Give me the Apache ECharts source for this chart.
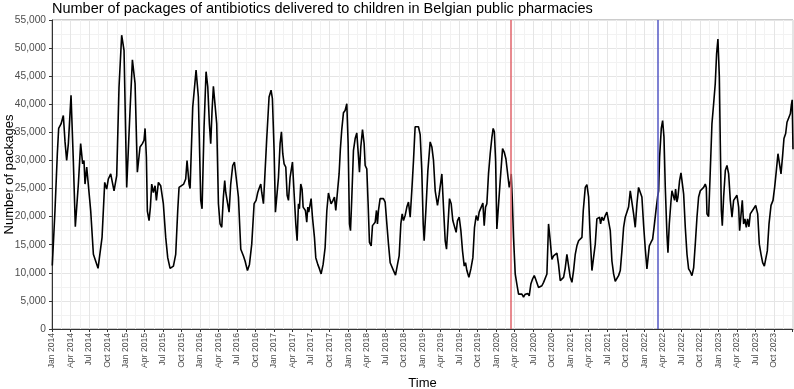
<!DOCTYPE html>
<html>
<head>
<meta charset="utf-8">
<script src="https://cdn.jsdelivr.net/npm/echarts@6/dist/echarts.min.js"></script>
<style>
html, body { margin: 0; padding: 0; background: #fff; }
#cn { width: 794px; height: 389px; }
</style>
</head>
<body>
<div id="cn"></div>
<script>
'use strict';

// time as decimal year, one entry per packages value
const timePoints = [
    2014.004, 2014.040, 2014.072, 2014.090, 2014.122, 2014.153, 2014.176, 2014.198, 2014.221, 2014.257,
    2014.288, 2014.315, 2014.356, 2014.387, 2014.414, 2014.432, 2014.446, 2014.469, 2014.495, 2014.523,
    2014.559, 2014.586, 2014.622, 2014.676, 2014.712, 2014.739, 2014.761, 2014.793, 2014.811, 2014.838,
    2014.874, 2014.905, 2014.941, 2014.973,
    2015.009, 2015.027, 2015.054, 2015.086, 2015.122, 2015.153, 2015.189, 2015.221, 2015.243, 2015.257,
    2015.275, 2015.288, 2015.311, 2015.329, 2015.347, 2015.369, 2015.392, 2015.410, 2015.437, 2015.468,
    2015.504, 2015.536, 2015.563, 2015.595, 2015.640, 2015.671, 2015.698, 2015.716, 2015.743, 2015.779,
    2015.806, 2015.824, 2015.851, 2015.865, 2015.901, 2015.946, 2015.977,
    2016.009, 2016.027, 2016.054, 2016.081, 2016.104, 2016.126, 2016.144, 2016.162, 2016.180, 2016.198,
    2016.225, 2016.248, 2016.270, 2016.293, 2016.315, 2016.333, 2016.347, 2016.369, 2016.392, 2016.414,
    2016.441, 2016.464, 2016.486, 2016.518, 2016.550, 2016.586, 2016.608, 2016.640, 2016.667, 2016.698,
    2016.730, 2016.757, 2016.779, 2016.802, 2016.820, 2016.833, 2016.856, 2016.874, 2016.901, 2016.932,
    2016.959, 2016.977,
    2017.000, 2017.018, 2017.041, 2017.059, 2017.081, 2017.099, 2017.117, 2017.135, 2017.158, 2017.176,
    2017.194, 2017.216, 2017.248, 2017.266, 2017.293, 2017.311, 2017.329, 2017.342, 2017.360, 2017.378,
    2017.392, 2017.410, 2017.423, 2017.441, 2017.455, 2017.468, 2017.482, 2017.500, 2017.518, 2017.545,
    2017.563, 2017.590, 2017.613, 2017.635, 2017.662, 2017.689, 2017.712, 2017.734, 2017.752, 2017.770,
    2017.793, 2017.815, 2017.833, 2017.856, 2017.878, 2017.895, 2017.914, 2017.937, 2017.959, 2017.982,
    2018.000, 2018.018, 2018.032, 2018.050, 2018.072, 2018.095, 2018.117, 2018.140, 2018.153, 2018.171,
    2018.194, 2018.216, 2018.230, 2018.252, 2018.270, 2018.288, 2018.311, 2018.329, 2018.347, 2018.365,
    2018.383, 2018.396, 2018.410, 2018.432, 2018.455, 2018.477, 2018.500, 2018.523, 2018.545, 2018.568,
    2018.590, 2018.613, 2018.640, 2018.667, 2018.689, 2018.712, 2018.730, 2018.748, 2018.770, 2018.793,
    2018.815, 2018.838, 2018.860, 2018.883, 2018.905, 2018.928, 2018.950, 2018.973, 2018.995,
    2019.014, 2019.027, 2019.050, 2019.077, 2019.108, 2019.131, 2019.153, 2019.176, 2019.207, 2019.230,
    2019.266, 2019.288, 2019.311, 2019.329, 2019.347, 2019.369, 2019.392, 2019.414, 2019.437, 2019.459,
    2019.477, 2019.500, 2019.523, 2019.545, 2019.568, 2019.586, 2019.604, 2019.631, 2019.658, 2019.685,
    2019.707, 2019.730, 2019.752, 2019.770, 2019.793, 2019.820, 2019.838, 2019.856, 2019.874, 2019.896,
    2019.919, 2019.941, 2019.959, 2019.975, 2019.992,
    2020.009, 2020.032, 2020.054, 2020.086, 2020.108, 2020.131, 2020.153, 2020.176, 2020.194, 2020.203,
    2020.216, 2020.234, 2020.257, 2020.279, 2020.302, 2020.324, 2020.347, 2020.369, 2020.392, 2020.414,
    2020.428, 2020.446, 2020.468, 2020.491, 2020.514, 2020.532, 2020.549, 2020.572, 2020.595, 2020.617,
    2020.640, 2020.662, 2020.685, 2020.707, 2020.730, 2020.752, 2020.775, 2020.797, 2020.820, 2020.842,
    2020.865, 2020.887, 2020.910, 2020.932, 2020.955, 2020.977,
    2021.000, 2021.023, 2021.045, 2021.068, 2021.090, 2021.113, 2021.135, 2021.158, 2021.176, 2021.203,
    2021.225, 2021.248, 2021.270, 2021.293, 2021.315, 2021.338, 2021.360, 2021.383, 2021.396, 2021.410,
    2021.428, 2021.450, 2021.473, 2021.495, 2021.518, 2021.541, 2021.563, 2021.586, 2021.608, 2021.631,
    2021.653, 2021.676, 2021.698, 2021.721, 2021.743, 2021.766, 2021.788, 2021.811, 2021.833, 2021.856,
    2021.878, 2021.901, 2021.923, 2021.946, 2021.968, 2021.991,
    2022.014, 2022.036, 2022.050, 2022.068, 2022.090, 2022.113, 2022.135, 2022.158, 2022.180, 2022.194,
    2022.207, 2022.230, 2022.248, 2022.266, 2022.284, 2022.306, 2022.320, 2022.338, 2022.360, 2022.374,
    2022.396, 2022.410, 2022.423, 2022.441, 2022.455, 2022.477, 2022.496, 2022.514, 2022.532, 2022.554,
    2022.577, 2022.599, 2022.622, 2022.644, 2022.667, 2022.689, 2022.712, 2022.734, 2022.757, 2022.779,
    2022.802, 2022.824, 2022.838, 2022.847, 2022.869, 2022.892, 2022.914, 2022.937, 2022.959, 2022.977,
    2022.995,
    2023.014, 2023.027, 2023.041, 2023.054, 2023.072, 2023.095, 2023.117, 2023.140, 2023.162, 2023.185,
    2023.207, 2023.230, 2023.252, 2023.275, 2023.288, 2023.306, 2023.324, 2023.342, 2023.360, 2023.378,
    2023.396, 2023.414, 2023.432, 2023.455, 2023.477, 2023.505, 2023.532, 2023.554, 2023.577, 2023.599,
    2023.622, 2023.640, 2023.662, 2023.685, 2023.712, 2023.739, 2023.761, 2023.784, 2023.806, 2023.824,
    2023.847, 2023.869, 2023.887, 2023.910, 2023.928, 2023.950, 2023.973, 2023.986, 2023.998, 2024.009
];

const packages = [
    11300, 21000, 31200, 35700, 36500, 38000, 33300, 30000, 33000, 41600,
    30000, 18200, 25800, 33000, 29400, 30000, 25800, 28800, 29100, 21000,
    13300, 13000, 10800, 16300, 26100, 24900, 26700, 27600, 27300, 24600,
    27300, 43000, 52300, 49600,
    25200, 25200, 38900, 47900, 43700, 27900, 32400, 33000, 33600, 35700,
    30600, 21000, 19300, 21700, 25800, 24300, 25500, 22900, 26100, 25500,
    22300, 16300, 12700, 10800, 11200, 13300, 21000, 25200, 25200, 25800,
    26700, 30000, 25800, 25000, 39500, 46100, 41300,
    22900, 21400, 36000, 45800, 43100, 36500, 33000, 38900, 43200, 43000,
    36500, 22300, 18700, 18100, 23500, 26400, 24300, 24600, 20800, 25800,
    29100, 29700, 29400, 23500, 14200, 13000, 12100, 10400, 11500, 15100,
    22300, 22900, 24300, 25200, 25800, 24300, 22300, 22000, 34000, 41300,
    42500, 41000,
    31800, 20800, 20800, 27000, 33000, 35100, 31200, 29400, 28800, 23800,
    22900, 27000, 29700, 25200, 18700, 15700, 22300, 21400, 25800, 24900,
    21700, 22000, 21100, 19000, 21700, 20800, 21100, 23200, 19900, 16300,
    12700, 11500, 10700, 9800, 11500, 14500, 21000, 24200, 23200, 22300,
    22800, 23500, 21100, 21400, 27600, 32000, 35500, 38500, 38900, 40100,
    33000, 18700, 17500, 23500, 31800, 33900, 34900, 30600, 27900, 32400,
    35500, 33000, 29100, 28500, 22300, 15400, 14800, 18400, 18700, 19000,
    21100, 18700, 21100, 23200, 22900, 23200, 22600, 18700, 15100, 11800,
    11500, 10400, 9600, 11500, 13000, 18700, 20500, 19300, 20200, 21700,
    22600, 19900, 24600, 30000, 36000, 36300, 36000, 34600, 28200,
    18700, 15700, 21100, 28200, 33300, 32400, 30000, 24600, 22000, 24000,
    27600, 21700, 15700, 14200, 18100, 23200, 22300, 19300, 19300, 17200,
    19300, 19900, 17500, 13900, 11200, 11800, 10400, 9200, 10700, 12700,
    18100, 20200, 19300, 20800, 21100, 22400, 18400, 21700, 22300, 27600,
    31200, 34000, 35700, 35100, 30000,
    17800, 18100, 26400, 32100, 31500, 30300, 30000, 25200, 26400, 27600,
    23500, 16300, 9800, 8000, 6200, 5900, 6200, 5700, 6200, 5900,
    6300, 5900, 8000, 8900, 9500, 8900, 8900, 7400, 7400, 7700,
    8300, 8300, 9800, 18700, 15700, 12400, 13000, 13300, 13500, 11500,
    8600, 8300, 9200, 10800, 13300, 13000,
    9200, 8300, 10400, 13300, 14800, 15700, 15700, 16300, 21100, 25200,
    25700, 23500, 16300, 10400, 10700, 15100, 19600, 19300, 19900, 18700,
    19900, 19300, 20200, 20800, 20500, 17500, 12100, 9800, 8500, 8600,
    9500, 10400, 13900, 18100, 19900, 20000, 21700, 24600, 24900, 20500,
    18100, 22300, 25200, 24900, 23500, 18500,
    14200, 10700, 10900, 14800, 15400, 16000, 18400, 21100, 23500, 24600,
    30600, 35700, 37100, 34200, 25200, 16900, 13600, 18700, 22600, 24600,
    24900, 22900, 24900, 22600, 23500, 26400, 27800, 27900, 24000, 18100,
    13300, 10700, 10200, 9500, 10900, 15100, 19900, 23500, 24600, 24900,
    25200, 25800, 25200, 20500, 20000, 28200, 36500, 40100, 43700, 49000,
    51600,
    44900, 33000, 21100, 18400, 23500, 28200, 29100, 27600, 22900, 19900,
    22900, 23200, 23800, 21700, 17500, 20200, 22900, 18700, 19600, 18100,
    19600, 18200, 20500, 20800, 21400, 22000, 20500, 15100, 13300, 11800,
    11200, 10900, 13900, 18700, 22000, 22900, 25200, 28200, 31200, 31500,
    27600, 30900, 33900, 34800, 36800, 37100, 38300, 39800, 40800, 32000
];

const quarterNames = ['Jan', 'Apr', 'Jul', 'Oct'];
const lastLabelYear = 2023.75;

// reference dates marked with vertical lines
const redMarkAt = 2020.203;
const blueMarkAt = 2022.184;

const strFont = '"Liberation Sans", Arial, sans-serif';

const optionChart = {
    animation: false,
    backgroundColor: '#fff',
    title: {
        text: 'Number of packages of antibiotics delivered to children in Belgian public pharmacies',
        left: 52,
        top: 1,
        padding: 0,
        textStyle: {
            fontFamily: strFont,
            fontSize: 14.5,
            fontWeight: 'normal',
            color: '#000'
        }
    },
    grid: {
        left: 52,
        right: 1,
        top: 20,
        bottom: 60,
        containLabel: false,
        outerBoundsMode: 'none',
        show: true,
        borderColor: '#999',
        borderWidth: 1
    },
    xAxis: {
        type: 'value',
        min: 2014,
        max: 2024.009,
        interval: 0.25,
        name: 'Time',
        nameLocation: 'middle',
        nameGap: 48,
        nameMoveOverlap: false,
        nameTextStyle: {
            fontFamily: strFont,
            fontSize: 13,
            color: '#000'
        },
        axisLine: {
            show: true,
            lineStyle: { color: '#333', width: 1 }
        },
        axisTick: {
            show: true,
            length: 3,
            lineStyle: { color: '#333' }
        },
        axisLabel: {
            rotate: 90,
            margin: 4,
            fontFamily: strFont,
            fontSize: 8.6,
            color: '#4d4d4d',
            showMaxLabel: false,
            formatter: (v) => {
                if (v > lastLabelYear + 0.01) return '';
                const y = Math.floor(v + 1e-6);
                const q = Math.round((v - y) * 4);
                return quarterNames[q] + ' ' + y;
            }
        },
        splitLine: {
            show: true,
            lineStyle: { color: '#e5e5e5', width: 1 }
        },
        minorTick: { show: false, splitNumber: 2 },
        minorSplitLine: {
            show: true,
            lineStyle: { color: '#f2f2f2', width: 1 }
        }
    },
    yAxis: {
        type: 'value',
        min: 0,
        max: 55000,
        interval: 5000,
        name: 'Number of packages',
        nameLocation: 'middle',
        nameGap: 36,
        nameMoveOverlap: false,
        nameTextStyle: {
            fontFamily: strFont,
            fontSize: 13,
            color: '#000'
        },
        axisLine: {
            show: true,
            lineStyle: { color: '#333', width: 1 }
        },
        axisTick: {
            show: true,
            length: 3,
            lineStyle: { color: '#333' }
        },
        axisLabel: {
            margin: 6,
            fontFamily: strFont,
            fontSize: 10.2,
            color: '#4d4d4d',
            formatter: (v) => v.toLocaleString('en-US')
        },
        splitLine: {
            show: true,
            lineStyle: { color: '#e5e5e5', width: 1 }
        },
        minorTick: { show: false, splitNumber: 2 },
        minorSplitLine: {
            show: true,
            lineStyle: { color: '#f2f2f2', width: 1 }
        }
    },
    series: [{
        name: 'packages',
        type: 'line',
        data: timePoints.map((t, i) => [t, packages[i]]),
        showSymbol: false,
        symbol: 'none',
        lineStyle: { color: '#000', width: 1.6 },
        z: 3,
        markLine: {
            silent: true,
            symbol: ['none', 'none'],
            label: { show: false },
            data: [
                { xAxis: redMarkAt, lineStyle: { color: '#e0636a', width: 1.5, type: 'solid' } },
                { xAxis: blueMarkAt, lineStyle: { color: '#5559c5', width: 1.5, type: 'solid' } }
            ]
        }
    }]
};

const echartsPanda = echarts.init(document.getElementById('cn'), null, { renderer: 'canvas' });
echartsPanda.setOption(optionChart);
</script>
</body>
</html>
